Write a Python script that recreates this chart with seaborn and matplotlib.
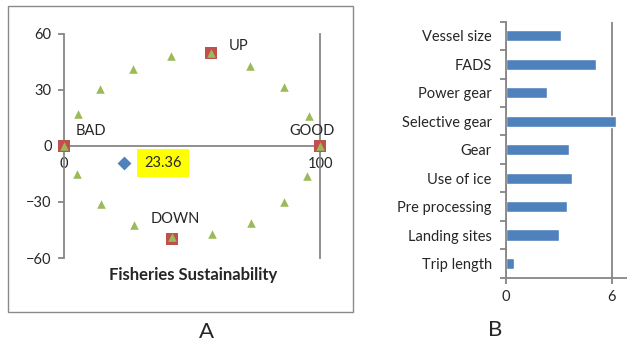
import numpy as np
import pandas as pd
import matplotlib
matplotlib.use('Agg')
import matplotlib.pyplot as plt
import seaborn as sns
from matplotlib.patches import Rectangle

sns.set_style('white')
plt.rcParams['font.family'] = ['Lato', 'DejaVu Sans']

# --- panel A data ---
tri_x = [0, 5.5, 14.2, 27, 41.9, 57.4, 72.5, 86, 95.7, 100, 95, 85.8, 73, 57.8, 42.2, 27.3, 14.5, 5.2]
tri_y = [0, 17.1, 30.5, 41.2, 48, 49.6, 42.9, 31.8, 16.2, 0, -16, -30, -41, -47.3, -48.6, -42.3, -30.9, -15.2]
ref_x = [0, 100, 57.4, 42.2]
ref_y = [0, 0, 50, -50]
score_x = [23.36]
score_y = [-8.9]

# --- panel B data ---
factors = ['Vessel size', 'FADS', 'Power gear', 'Selective gear', 'Gear',
           'Use of ice', 'Pre processing', 'Landing sites', 'Trip length']
values = [3.13, 5.13, 2.32, 6.24, 3.6, 3.74, 3.47, 3.04, 0.45]

grey = '#868686'
blue = '#4F81BD'
red = '#C0504D'
green = '#9BBB59'
fs = 10.5

fig = plt.figure(figsize=(6.27, 3.44), dpi=100)

# outer chart box of panel A
fig.patches.append(Rectangle((0.0128, 0.093), 0.5502, 0.8895, transform=fig.transFigure,
                             fill=False, edgecolor='#8a8a8a', linewidth=1.0))

ax = fig.add_axes([0.1021, 0.25, 0.4083, 0.6512])
sns.scatterplot(x=ref_x, y=ref_y, marker='s', s=80, color=red, edgecolor=red, linewidth=0, ax=ax, zorder=3)
sns.scatterplot(x=tri_x, y=tri_y, marker='^', s=38, color=green, edgecolor=green, linewidth=0, ax=ax, zorder=4)
sns.scatterplot(x=score_x, y=score_y, marker='D', s=50, color=blue, edgecolor=blue, linewidth=0, ax=ax, zorder=4)
for c in ax.collections:
    c.set_clip_on(False)

ax.set_xlim(0, 100)
ax.set_ylim(-60, 60)
ax.set_yticks([-60, -30, 0, 30, 60])
ax.set_xticks([0, 100])
ax.spines['top'].set_visible(False)
ax.spines['bottom'].set_position(('data', 0))
for s in ['left', 'bottom', 'right']:
    ax.spines[s].set_color(grey)
    ax.spines[s].set_linewidth(1.3)
ax.tick_params(axis='y', length=4, color=grey, width=1.3, pad=5, labelsize=fs, left=True)
ax.tick_params(axis='x', length=0, pad=8, labelsize=fs)
ax.set_facecolor('none')
ax.grid(False)

# point labels
ax.text(10.4, 8, 'BAD', ha='center', va='center', fontsize=fs)
ax.text(96.9, 8, 'GOOD', ha='center', va='center', fontsize=fs)
ax.text(68, 53.6, 'UP', ha='center', va='center', fontsize=fs)
ax.text(43.4, -39, 'DOWN', ha='center', va='center', fontsize=fs)
ax.text(38.7, -9.1, f'{score_x[0]:.2f}', ha='center', va='center', fontsize=fs,
        bbox=dict(boxstyle='square,pad=0.5', facecolor='#FFFF00', edgecolor='none'))

fig.text(0.3073, 0.2006, 'Fisheries Sustainability', ha='center', va='center',
         fontsize=12, fontweight='bold')
fig.text(0.330, 0.035, 'A', ha='center', va='center', fontsize=16)

# --- panel B ---
df = pd.DataFrame({'factor': factors, 'value': values})
ax2 = fig.add_axes([0.8066, 0.1927, 0.1935, 0.7442])
sns.barplot(data=df, x='value', y='factor', orient='h', color=blue, width=0.39,
            saturation=1, ax=ax2)
ax2.set_xlim(0, 6.87)
ax2.set_ylim(len(factors) - 0.5, -0.5)
ax2.set_xticks([0, 6])
ax2.set_yticks(np.arange(-0.5, len(factors), 1.0), minor=True)
ax2.set_xlabel('')
ax2.set_ylabel('')
ax2.xaxis.grid(True, color=grey, linewidth=1.3)
ax2.yaxis.grid(False)
ax2.set_axisbelow(True)
for s in ['top', 'right']:
    ax2.spines[s].set_visible(False)
for s in ['left', 'bottom']:
    ax2.spines[s].set_color(grey)
    ax2.spines[s].set_linewidth(1.3)
ax2.tick_params(axis='y', which='major', length=0, pad=10, labelsize=fs)
ax2.tick_params(axis='y', which='minor', length=4, color=grey, width=1.3, left=True)
ax2.tick_params(axis='x', length=4, color=grey, width=1.3, pad=5, labelsize=fs, bottom=True)
ax2.set_facecolor('none')

fig.text(0.7895, 0.041, 'B', ha='center', va='center', fontsize=16)

fig.savefig('out.png', dpi=100)
